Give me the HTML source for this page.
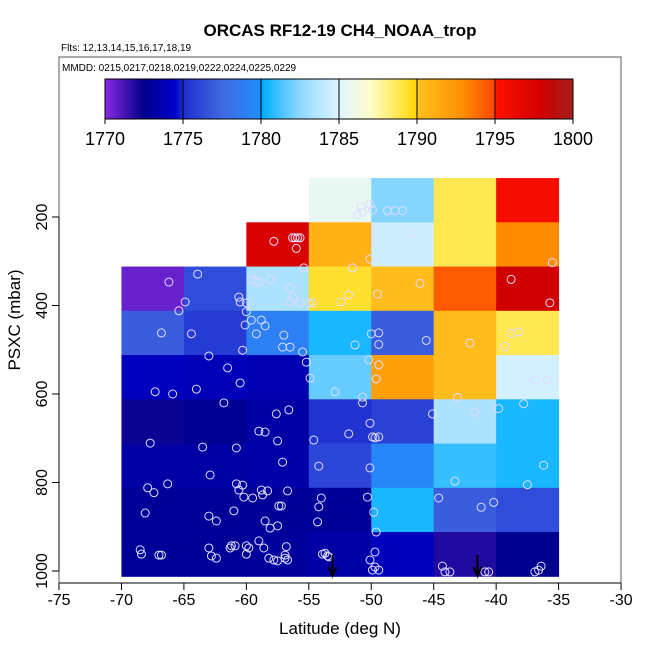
<!DOCTYPE html>
<html><head><meta charset="utf-8"><style>
body{margin:0;background:#fff;}
svg{display:block;font-family:"Liberation Sans",sans-serif;}
</style></head><body>
<svg id="chart" width="650" height="650">
<defs><linearGradient id="cbgrad" x1="0" x2="1" y1="0" y2="0"></linearGradient></defs>
<text x="340" y="36" text-anchor="middle" font-size="17" font-weight="bold">ORCAS RF12-19 CH4_NOAA_trop</text>
<text x="61" y="51" font-size="10">Flts: 12,13,14,15,16,17,18,19</text>
<rect x="59" y="57" width="562" height="526" fill="none" stroke="#555" stroke-width="1"/>
<text x="62" y="71" font-size="10">MMDD: 0215,0217,0218,0219,0222,0224,0225,0229</text>
<g id="cells"></g><g id="pts"></g><g id="arrows"></g><g id="axes"></g><g id="cbar"></g>
<text x="340" y="634" text-anchor="middle" font-size="17">Latitude (deg N)</text>
<text transform="translate(20,320) rotate(-90)" text-anchor="middle" font-size="17">PSXC (mbar)</text>
</svg>
<script>
const latEdges=[-70,-65,-60,-55,-50,-45,-40,-35];
const presEdges=[112,212,312,412,512,612,712,812,912,1012];
const cellValues=[
[null,null,null,1785.5,1782.3,1788.8,1795.6],
[null,null,1797.5,1791,1784.4,1788.8,1793],
[1770.6,1776.3,1783.4,1789.3,1790.4,1794.4,1798],
[1777,1775.5,1779,1780.5,1777,1790.4,1788.8],
[1774.1,1773.9,1773.7,1781.8,1792,1790.4,1784.6],
[1772.3,1772.8,1773.3,1775.2,1775.8,1783.4,1780.5],
[1773.3,1773.3,1773.4,1776,1779.4,1781,1780.5],
[1772.9,1772.9,1772.9,1772.9,1780.5,1777,1776.3],
[1772.9,1772.9,1773,1773.3,1774,1771.9,1772.6]];
const ptLat=[-66.2,-63.9,-64.9,-65.4,-66.8,-64.4,-63.0,-61.5,-60.5,-64.0,-67.3,-65.9,-61.8,-67.7,-63.5,-60.8,-57.6,-56.6,-58.5,-57.5,-57.1,-59.0,-67.9,-67.4,-66.3,-68.1,-62.9,-60.8,-60.6,-60.3,-60.2,-61.0,-63.0,-62.4,-58.8,-58.7,-58.3,-56.7,-59.5,-57.4,-57.2,-58.5,-58.1,-57.5,-68.5,-68.4,-67.0,-66.8,-63.0,-62.8,-62.4,-61.3,-61.2,-60.9,-60.0,-59.8,-60.0,-59.0,-58.6,-58.2,-57.8,-57.5,-56.9,-56.9,-56.7,-56.8,-56.5,-56.3,-56.5,-60.0,-60.6,-60.5,-60.0,-59.6,-60.1,-58.8,-58.5,-57.0,-57.1,-56.5,-60.3,-59.2,-59.6,-59.3,-59.0,-58.1,-57.8,-56.0,-56.3,-56.1,-55.9,-55.7,-55.4,-55.7,-55.0,-54.7,-55.5,-55.2,-54.9,-54.6,-54.2,-54.3,-54.2,-54.0,-53.9,-53.7,-53.5,-53.4,-52.4,-51.8,-52.9,-51.8,-49.5,-49.4,-50.0,-49.4,-51.3,-50.2,-49.4,-49.6,-50.7,-50.7,-50.1,-49.9,-49.7,-49.4,-50.1,-50.3,-49.8,-49.6,-49.7,-50.1,-49.9,-49.7,-49.4,-51.1,-50.8,-50.1,-49.9,-50.7,-48.7,-48.1,-47.5,-46.8,-50.1,-51.5,-46.1,-45.6,-45.1,-44.3,-44.6,-43.3,-43.1,-41.7,-42.1,-41.2,-40.2,-39.8,-39.3,-38.8,-38.2,-37.8,-36.9,-35.9,-37.5,-36.2,-38.8,-35.7,-35.5,-44.1,-43.7,-40.9,-40.6,-36.9,-36.6,-36.4];
const ptPres=[347,329,392,412,462,464,514,541,575,589,595,600,620,711,720,722,645,636,686,706,754,684,812,823,803,869,783,803,817,806,833,864,876,887,817,828,819,819,835,853,853,887,903,898,952,962,964,964,948,966,971,948,943,943,943,948,962,932,948,971,975,977,971,964,975,945,360,381,392,394,381,392,414,433,444,433,446,467,494,494,501,464,342,344,347,340,255,271,247,247,247,247,315,394,394,394,505,528,564,704,763,889,855,835,962,960,966,968,392,376,595,690,374,488,464,462,489,523,534,566,607,620,666,697,699,697,767,833,867,912,957,975,998,991,998,195,177,172,184,189,186,186,186,236,295,315,350,479,645,989,835,797,608,641,485,856,845,633,493,463,460,622,569,569,805,761,341,394,303,1002,1002,1002,1002,1002,998,989];
const arrowLat=[-53.1,-41.5];
const xTicks=[-75,-70,-65,-60,-55,-50,-45,-40,-35,-30];
const yTicks=[200,400,600,800,1000];
const cbTicks=[1770,1775,1780,1785,1790,1795,1800];
const cbStopVals=[1770,1772.5,1774.5,1775,1777.5,1780,1780.1,1782.5,1785,1787,1790,1790.1,1793,1795,1795.1,1798,1800];
const cbStopCols=["#8a2be2","#00008b","#0000cd","#1e2fd0","#4169e1","#1e90ff","#00b0ff","#90d8ff","#e0f4ff","#ffffcc","#ffd700","#ffc21e","#ff8c00","#ff4500","#ff1000","#d00000","#a52020"];

const NS="http://www.w3.org/2000/svg";
const X=v=>59+(v+75)*12.49;
const Y=p=>217+(p-200)*0.4425;
const CB=v=>105+(v-1770)*(573-105)/30;
function mk(t,a,parent){const e=document.createElementNS(NS,t);for(const k in a)e.setAttribute(k,a[k]);parent.appendChild(e);return e;}
function hex(h){return [1,3,5].map(i=>parseInt(h.substr(i,2),16));}
function colorOf(v){
  if(v<=cbStopVals[0])return cbStopCols[0];
  for(let i=1;i<cbStopVals.length;i++){
    if(v<=cbStopVals[i]){const t=(v-cbStopVals[i-1])/(cbStopVals[i]-cbStopVals[i-1]);
      const a=hex(cbStopCols[i-1]),b=hex(cbStopCols[i]);
      return "rgb("+a.map((c,j)=>Math.round(c+(b[j]-c)*t)).join(",")+")";}
  }
  return cbStopCols[cbStopCols.length-1];
}
const cells=document.getElementById('cells');
cellValues.forEach((row,r)=>row.forEach((v,c)=>{
  if(v===null)return;
  const x0=X(latEdges[c]),x1=X(latEdges[c+1]),y0=Y(presEdges[r]),y1=Y(presEdges[r+1]);
  const e=mk('rect',{x:x0,y:y0,width:x1-x0+0.5,height:y1-y0+0.5,fill:colorOf(v)},cells);
  
  
}));
const pts=document.getElementById('pts');
ptLat.forEach((la,i)=>{
  const e=mk('circle',{cx:X(la),cy:Y(ptPres[i]),r:4,fill:"none",stroke:"#ddddff","stroke-width":1},pts);
  
  
});
const arr=document.getElementById('arrows');
arrowLat.forEach(la=>{
  const g=mk('g',{},arr);
  
  
  const x=X(la);
  mk('line',{x1:x,y1:555,x2:x,y2:575,stroke:"#000","stroke-width":2},g);
  mk('polyline',{points:(x-4)+",567 "+x+",576 "+(x+4)+",567",fill:"none",stroke:"#000","stroke-width":2},g);
});
const ax=document.getElementById('axes');
const xa=mk('line',{x1:X(-75),y1:583,x2:X(-30),y2:583,stroke:"#000"},ax);


xTicks.forEach(v=>{
  mk('line',{x1:X(v),y1:583,x2:X(v),y2:590,stroke:"#000"},ax);
  const t=mk('text',{x:X(v),y:605,"text-anchor":"middle","font-size":16},ax);t.textContent=v;
  
  
});
const ya=mk('line',{x1:59,y1:Y(200),x2:59,y2:Y(1000),stroke:"#000"},ax);


yTicks.forEach(v=>{
  mk('line',{x1:52,y1:Y(v),x2:59,y2:Y(v),stroke:"#000"},ax);
  const t=mk('text',{transform:"translate(47,"+Y(v)+") rotate(-90)","text-anchor":"middle","font-size":16},ax);t.textContent=v;
  
  
});
const grad=document.getElementById('cbgrad');
cbStopVals.forEach((v,i)=>mk('stop',{offset:(v-1770)/30,"stop-color":cbStopCols[i]},grad));
const cb=document.getElementById('cbar');
const cr=mk('rect',{x:105,y:79,width:468,height:40,fill:"url(#cbgrad)",stroke:"#000"},cb);


cbTicks.forEach(v=>{
  mk('line',{x1:CB(v),y1:79,x2:CB(v),y2:124,stroke:"#000","stroke-width":1},cb);
  const t=mk('text',{x:CB(v),y:145,"text-anchor":"middle","font-size":18},cb);t.textContent=v;
  
  
});
</script>
</body></html>
